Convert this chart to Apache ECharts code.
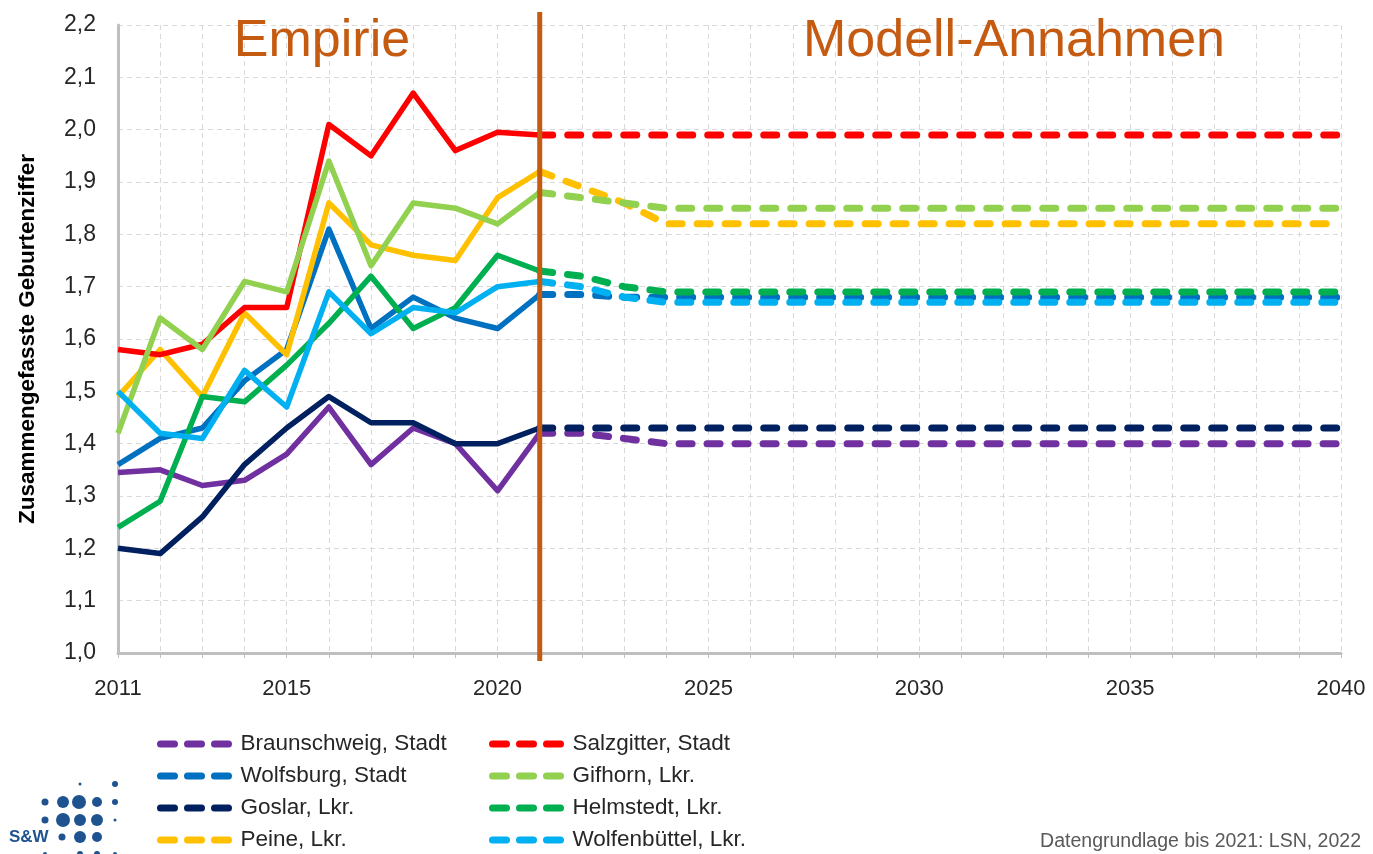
<!DOCTYPE html>
<html lang="de">
<head>
<meta charset="utf-8">
<title>Zusammengefasste Geburtenziffer</title>
<script src="https://cdn.jsdelivr.net/npm/echarts@6.0.0/dist/echarts.min.js"></script>
<style>
  html, body { margin: 0; padding: 0; background: #fff; }
  #chart { width: 1373px; height: 854px; }
</style>
</head>
<body>
<div id="chart"></div>
<script>
// --- Daten ---
const yearsEmp = [2011, 2012, 2013, 2014, 2015, 2016, 2017, 2018, 2019, 2020, 2021]
const yearsProj = [2021, 2022, 2023, 2024, 2025, 2026, 2027, 2028, 2029, 2030,
  2031, 2032, 2033, 2034, 2035, 2036, 2037, 2038, 2039, 2040]

const braunschweigEmp = [1.345, 1.35, 1.32, 1.33, 1.38, 1.47, 1.36, 1.43, 1.40, 1.31, 1.42]
const braunschweigProj = [1.42, 1.42, 1.41, 1.40, 1.40, 1.40, 1.40, 1.40, 1.40, 1.40,
  1.40, 1.40, 1.40, 1.40, 1.40, 1.40, 1.40, 1.40, 1.40, 1.40]

const wolfsburgEmp = [1.36, 1.41, 1.43, 1.52, 1.58, 1.81, 1.62, 1.68, 1.64, 1.62, 1.685]
const wolfsburgProj = [1.685, 1.685, 1.68, 1.68, 1.68, 1.68, 1.68, 1.68, 1.68, 1.68,
  1.68, 1.68, 1.68, 1.68, 1.68, 1.68, 1.68, 1.68, 1.68, 1.68]

const goslarEmp = [1.20, 1.19, 1.26, 1.36, 1.43, 1.49, 1.44, 1.44, 1.40, 1.40, 1.43]
const goslarProj = [1.43, 1.43, 1.43, 1.43, 1.43, 1.43, 1.43, 1.43, 1.43, 1.43,
  1.43, 1.43, 1.43, 1.43, 1.43, 1.43, 1.43, 1.43, 1.43, 1.43]

const peineEmp = [1.49, 1.58, 1.49, 1.65, 1.57, 1.86, 1.78, 1.76, 1.75, 1.87, 1.92]
const peineProj = [1.92, 1.89, 1.86, 1.82, 1.82, 1.82, 1.82, 1.82, 1.82, 1.82,
  1.82, 1.82, 1.82, 1.82, 1.82, 1.82, 1.82, 1.82, 1.82, 1.82]

const salzgitterEmp = [1.58, 1.57, 1.59, 1.66, 1.66, 2.01, 1.95, 2.07, 1.96, 1.995, 1.99]
const salzgitterProj = [1.99, 1.99, 1.99, 1.99, 1.99, 1.99, 1.99, 1.99, 1.99, 1.99,
  1.99, 1.99, 1.99, 1.99, 1.99, 1.99, 1.99, 1.99, 1.99, 1.99]

const gifhornEmp = [1.42, 1.64, 1.58, 1.71, 1.69, 1.94, 1.74, 1.86, 1.85, 1.82, 1.88]
const gifhornProj = [1.88, 1.87, 1.86, 1.85, 1.85, 1.85, 1.85, 1.85, 1.85, 1.85,
  1.85, 1.85, 1.85, 1.85, 1.85, 1.85, 1.85, 1.85, 1.85, 1.85]

const helmstedtEmp = [1.24, 1.29, 1.49, 1.48, 1.55, 1.63, 1.72, 1.62, 1.66, 1.76, 1.73]
const helmstedtProj = [1.73, 1.72, 1.70, 1.69, 1.69, 1.69, 1.69, 1.69, 1.69, 1.69,
  1.69, 1.69, 1.69, 1.69, 1.69, 1.69, 1.69, 1.69, 1.69, 1.69]

const wolfenbuettelEmp = [1.50, 1.42, 1.41, 1.54, 1.47, 1.69, 1.61, 1.66, 1.65, 1.70, 1.71]
const wolfenbuettelProj = [1.71, 1.70, 1.68, 1.67, 1.67, 1.67, 1.67, 1.67, 1.67, 1.67,
  1.67, 1.67, 1.67, 1.67, 1.67, 1.67, 1.67, 1.67, 1.67, 1.67]

// x-Achse: beschriftete Jahre
const labelYears = [2011, 2015, 2020, 2025, 2030, 2035, 2040]

// Kreise (Reihenfolge wie in der Legende)
const regions = [
  { name: 'Braunschweig, Stadt', color: '#7030A0', emp: braunschweigEmp, proj: braunschweigProj },
  { name: 'Wolfsburg, Stadt', color: '#0070C0', emp: wolfsburgEmp, proj: wolfsburgProj },
  { name: 'Goslar, Lkr.', color: '#002060', emp: goslarEmp, proj: goslarProj },
  { name: 'Peine, Lkr.', color: '#FFC000', emp: peineEmp, proj: peineProj },
  { name: 'Salzgitter, Stadt', color: '#FF0000', emp: salzgitterEmp, proj: salzgitterProj },
  { name: 'Gifhorn, Lkr.', color: '#92D050', emp: gifhornEmp, proj: gifhornProj },
  { name: 'Helmstedt, Lkr.', color: '#00B050', emp: helmstedtEmp, proj: helmstedtProj },
  { name: 'Wolfenbüttel, Lkr.', color: '#00B0F0', emp: wolfenbuettelEmp, proj: wolfenbuettelProj }
]

const FONT = "'Liberation Sans', Arial, sans-serif"
const ORANGE = '#C55A11'
const LOGO = '#1F5390'

const pairs = (xs, ys) => xs.map((x, i) => [x, ys[i]])

// Modell-Annahmen zuerst (gestrichelt), damit die Legende das gestrichelte Symbol nimmt
const projSeries = regions.map(r => ({
  name: r.name,
  type: 'line',
  data: pairs(yearsProj, r.proj),
  symbol: 'none',
  lineStyle: { color: r.color, width: 7, type: [13, 15], cap: 'round' },
  itemStyle: { color: r.color },
  z: 2
}))

const empSeries = regions.map(r => ({
  name: r.name,
  type: 'line',
  data: pairs(yearsEmp, r.emp),
  symbol: 'none',
  lineStyle: { color: r.color, width: 5.5, join: 'round' },
  itemStyle: { color: r.color },
  z: 3
}))

const legendBase = {
  orient: 'vertical',
  top: 730,
  padding: 0,
  itemWidth: 70,
  itemHeight: 14,
  itemGap: 4,
  lineStyle: { type: [14, 13], cap: 'round', width: 7 },
  itemStyle: { opacity: 0, borderWidth: 0 },
  textStyle: { fontFamily: FONT, fontSize: 22.5, lineHeight: 28, color: '#262626', padding: [0, 0, 0, 5] },
  selectedMode: false
}

// Logo (S&W) als Dekoration
const dots = [
  [80, 784, 1.5], [115, 784, 3],
  [45, 802, 3.5], [63, 802, 6], [79, 802, 7], [97, 802, 5], [115, 802, 3],
  [45, 820, 3.5], [63, 820, 7], [80, 820, 6], [97, 820, 6], [115, 820, 1.5],
  [62, 837, 3.5], [80, 837, 6], [97, 837, 5],
  [45, 854, 2], [80, 854, 3], [97, 854, 3], [115, 854, 2]
]

const chart = echarts.init(document.getElementById('chart'))

const option = {
  animation: false,
  backgroundColor: '#fff',
  grid: { left: 118, right: 32, top: 25, bottom: 201 },
  xAxis: {
    type: 'value',
    min: 2011,
    max: 2040,
    interval: 1,
    axisLine: { show: true, lineStyle: { color: '#BFBFBF', width: 3 } },
    axisTick: { show: true, length: 5, lineStyle: { color: '#BFBFBF', width: 1 } },
    axisLabel: {
      fontFamily: FONT,
      fontSize: 22,
      color: '#262626',
      margin: 25,
      showMinLabel: true,
      showMaxLabel: true,
      formatter: v => (labelYears.indexOf(v) >= 0 ? String(v) : '')
    },
    splitLine: { show: true, lineStyle: { color: '#D9D9D9', width: 1, type: [5, 4] } }
  },
  yAxis: {
    type: 'value',
    min: 1.0,
    max: 2.2,
    interval: 0.1,
    name: 'Zusammengefasste Geburtenziffer',
    nameLocation: 'middle',
    nameRotate: 90,
    nameGap: 79,
    nameTextStyle: { fontFamily: FONT, fontSize: 22.5, fontWeight: 'bold', color: '#000' },
    axisLine: { show: true, lineStyle: { color: '#BFBFBF', width: 3 } },
    axisTick: { show: false },
    axisLabel: {
      fontFamily: FONT,
      fontSize: 23,
      color: '#262626',
      margin: 22,
      formatter: v => v.toFixed(1).replace('.', ',')
    },
    splitLine: { show: true, lineStyle: { color: '#D9D9D9', width: 1, type: [5, 4] } }
  },
  legend: [
    Object.assign({}, legendBase, { left: 157, data: regions.slice(0, 4).map(r => r.name) }),
    Object.assign({}, legendBase, { left: 489, data: regions.slice(4).map(r => r.name) })
  ],
  series: projSeries.concat(empSeries)
}

chart.setOption(option)

// Trennlinie Empirie / Modell bei 2021 und Beschriftungen
const x2021 = chart.convertToPixel({ xAxisIndex: 0 }, 2021)
const graphics = [
  {
    type: 'line',
    shape: { x1: x2021, y1: 12, x2: x2021, y2: 661 },
    style: { stroke: ORANGE, lineWidth: 5 },
    z: 10
  },
  {
    type: 'text',
    x: 322, y: 42,
    style: { text: 'Empirie', fill: ORANGE, font: '52px ' + FONT, textAlign: 'center', textVerticalAlign: 'middle' },
    z: 10
  },
  {
    type: 'text',
    x: 1014, y: 42,
    style: { text: 'Modell-Annahmen', fill: ORANGE, font: '52px ' + FONT, textAlign: 'center', textVerticalAlign: 'middle' },
    z: 10
  },
  {
    type: 'text',
    x: 1361, y: 842,
    style: { text: 'Datengrundlage bis 2021: LSN, 2022', fill: '#595959', font: '19.5px ' + FONT, textAlign: 'right', textVerticalAlign: 'middle' },
    z: 10
  },
  {
    type: 'text',
    x: 9, y: 837,
    style: { text: 'S&W', fill: LOGO, font: 'bold 17px ' + FONT, textVerticalAlign: 'middle' },
    z: 10
  }
].concat(dots.map(d => ({
  type: 'circle',
  shape: { cx: d[0], cy: d[1], r: d[2] },
  style: { fill: LOGO },
  z: 10
})))

chart.setOption({ graphic: graphics })

window.addEventListener('resize', () => chart.resize())
</script>
</body>
</html>
